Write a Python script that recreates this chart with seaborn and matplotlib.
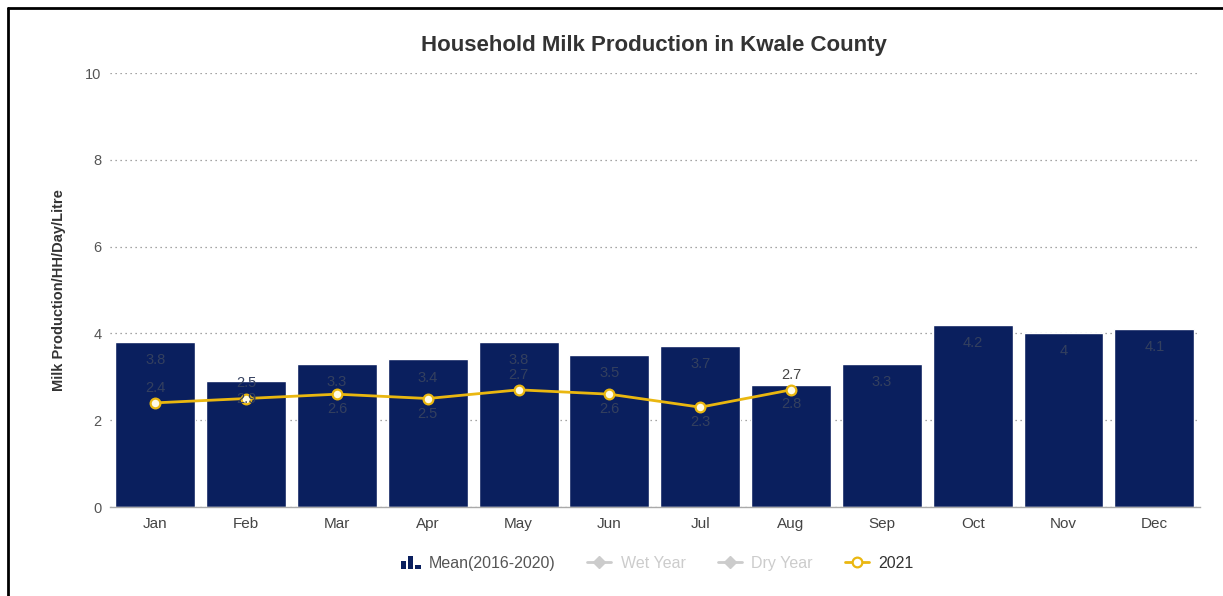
import matplotlib
matplotlib.use("Agg")
import matplotlib.pyplot as plt
import matplotlib.patches as mpatches
from matplotlib.lines import Line2D
from matplotlib.legend_handler import HandlerBase
import seaborn as sns
import pandas as pd

months = ["Jan", "Feb", "Mar", "Apr", "May", "Jun",
          "Jul", "Aug", "Sep", "Oct", "Nov", "Dec"]
mean_2016_2020 = [3.8, 2.9, 3.3, 3.4, 3.8, 3.5, 3.7, 2.8, 3.3, 4.2, 4.0, 4.1]
months_2021 = ["Jan", "Feb", "Mar", "Apr", "May", "Jun", "Jul", "Aug"]
values_2021 = [2.4, 2.5, 2.6, 2.5, 2.7, 2.6, 2.3, 2.7]
yticks = [0, 2, 4, 6, 8, 10]

# placement of the 2021 value labels (+1 above the point, -1 below)
label_side_2021 = [1, 1, -1, -1, 1, -1, -1, 1]

NAVY = "#0a1f5e"
GOLD = "#eab710"
LABEL = "#34405e"

sns.set_theme(style="white")
plt.rcParams["font.family"] = ["Liberation Sans", "DejaVu Sans"]

fig = plt.figure(figsize=(12.23, 5.96), dpi=100)
ax = fig.add_axes([0.0899, 0.1493, 0.8911, 0.7282])

bars_df = pd.DataFrame({"month": months, "value": mean_2016_2020})
line_df = pd.DataFrame({"month": months_2021, "value": values_2021})

sns.barplot(data=bars_df, x="month", y="value", order=months,
            color=NAVY, saturation=1, width=0.88, ax=ax, zorder=2)
sns.pointplot(data=line_df, x="month", y="value", order=months,
              color=GOLD, markers="o", linestyles="-", errorbar=None,
              markersize=7, linewidth=2, ax=ax)
for ln in ax.lines:
    ln.set_markerfacecolor("#fffbe6")
    ln.set_markeredgecolor(GOLD)
    ln.set_markeredgewidth(1.6)
    ln.set_zorder(4)

# value labels
for i, v in enumerate(mean_2016_2020):
    ax.annotate(f"{v:g}", (i, v), xytext=(0, -13), textcoords="offset points",
                ha="center", va="center", fontsize=10.5, color=LABEL, zorder=5)
for m, v, s in zip(months_2021, values_2021, label_side_2021):
    i = months.index(m)
    color = "#444444" if v + 0.35 > mean_2016_2020[i] else LABEL
    ax.annotate(f"{v:g}", (i, v), xytext=(0, 11 * s), textcoords="offset points",
                ha="center", va="center", fontsize=10.5, color=color, zorder=5)

ax.set_ylim(0, 10)
ax.set_xlim(-0.5, 11.5)
ax.set_yticks(yticks)
ax.set_yticklabels([str(t) for t in yticks], color="#555555", fontsize=10.5)
ax.tick_params(axis="x", colors="#444444", labelsize=11, length=0, pad=7)
ax.tick_params(axis="y", length=0, pad=6)
ax.yaxis.grid(True, linestyle=(0, (1, 3)), color="#888888", linewidth=0.9)
ax.set_axisbelow(True)
for side in ["top", "right", "left"]:
    ax.spines[side].set_visible(False)
ax.spines["bottom"].set_color("#aaaaaa")
ax.spines["bottom"].set_linewidth(1)
ax.set_xlabel("")
ax.set_ylabel("Milk Production/HH/Day/Litre", fontsize=10.5, fontweight="bold",
              color="#333333", labelpad=14)

fig.text(0.535, 0.924, "Household Milk Production in Kwale County",
         ha="center", va="center", fontsize=16, fontweight="bold", color="#333333")


class BarIconHandler(HandlerBase):
    def create_artists(self, legend, orig_handle, xdescent, ydescent,
                       width, height, fontsize, trans):
        arts = []
        bw = width * 0.22
        heights = [0.75, 1.15, 0.35]
        for k, h in enumerate(heights):
            r = mpatches.Rectangle((xdescent + width * 0.25 + k * bw * 1.35, -ydescent - 1),
                                   bw, height * h, facecolor=NAVY,
                                   edgecolor="none", transform=trans)
            arts.append(r)
        return arts


bar_handle = mpatches.Patch(color=NAVY)
wet_handle = Line2D([0], [0], color="#cccccc", marker="D", markersize=6, linewidth=2)
dry_handle = Line2D([0], [0], color="#cccccc", marker="D", markersize=6, linewidth=2)
y21_handle = Line2D([0], [0], color=GOLD, marker="o", markersize=7, linewidth=2,
                    markerfacecolor="white", markeredgecolor=GOLD, markeredgewidth=1.6)

leg = fig.legend([bar_handle, wet_handle, dry_handle, y21_handle],
                 ["Mean(2016-2020)", "Wet Year", "Dry Year", "2021"],
                 handler_map={bar_handle: BarIconHandler()},
                 loc="center", bbox_to_anchor=(0.535, 0.055), ncol=4,
                 frameon=False, fontsize=11.5, handlelength=1.5,
                 columnspacing=2.0, handletextpad=0.6)
for txt, c in zip(leg.get_texts(), ["#555555", "#cccccc", "#cccccc", "#333333"]):
    txt.set_color(c)

# frame lines on the left and top of the image
fig.add_artist(Line2D([8 / 1223, 8 / 1223], [0, 1 - 8 / 596], color="black",
                      linewidth=2, transform=fig.transFigure))
fig.add_artist(Line2D([8 / 1223, 1], [1 - 8 / 596, 1 - 8 / 596], color="black",
                      linewidth=2, transform=fig.transFigure))

fig.savefig("out.png", dpi=100)
